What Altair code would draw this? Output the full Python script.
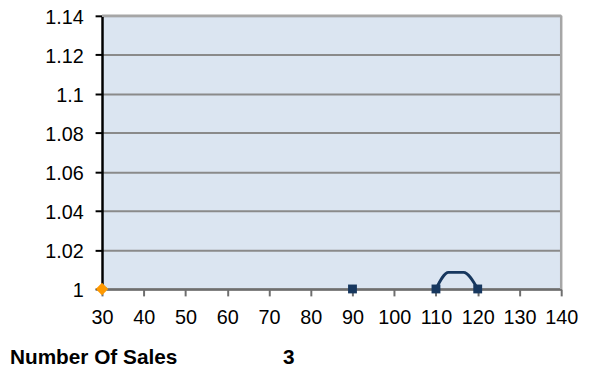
import altair as alt
import pandas as pd

# Data
sales_x = [90, 110, 120]
sales_y = [1, 1, 1]
curve_x = [110, 113, 116.6, 120]
curve_y = [1, 1.0085, 1.0085, 1]
orange_x = [30]
orange_y = [1]
y_ticks = [1, 1.02, 1.04, 1.06, 1.08, 1.1, 1.12, 1.14]
x_ticks = [30, 40, 50, 60, 70, 80, 90, 100, 110, 120, 130, 140]
footer_label = "Number Of Sales"
footer_value = "3"

pts = pd.DataFrame({"x": sales_x, "y": sales_y})
curve = pd.DataFrame({"x": curve_x, "y": curve_y})
orange = pd.DataFrame({"x": orange_x, "y": orange_y})

FONT = "Liberation Sans"
NAVY = "#17375e"

xscale = alt.Scale(domain=[30, 140], nice=False, zero=False)
yscale = alt.Scale(domain=[1, 1.14], nice=False, zero=False)

xaxis = alt.Axis(values=x_ticks, grid=False, domainColor="#6e6e6e", domainWidth=2.5,
                 tickColor="#6e6e6e", tickWidth=2, tickSize=7, labelPadding=28,
                 labelBaseline="alphabetic",
                 labelFont=FONT, labelFontSize=20, labelColor="#000000", title=None,
                 labelFlush=False, labelOverlap=False)
yaxis = alt.Axis(values=y_ticks, grid=True, gridColor="#8a8a8a", gridWidth=2,
                 domainColor="#000000", domainWidth=2.5, tickColor="#000000", tickWidth=2,
                 tickSize=7, labelPadding=12, labelOffset=2, labelFont=FONT, labelFontSize=20,
                 labelColor="#000000", title=None, labelOverlap=False,
                 labelExpr="format(datum.value, '~g')")

X = alt.X("x:Q", scale=xscale, axis=xaxis)
Y = alt.Y("y:Q", scale=yscale, axis=yaxis)

line = alt.Chart(curve).mark_line(color=NAVY, strokeWidth=3, interpolate="monotone").encode(x=X, y=Y)

squares = alt.Chart(pts).mark_point(shape="square", filled=True, color=NAVY, size=80, opacity=1).encode(x=X, y=Y)

cyan = alt.Chart(orange).mark_point(shape="M-0.2,0L1.2,0", strokeWidth=4, color="#5bc8f0",
                                    size=70, opacity=1, filled=False).encode(x=X, y=Y)

diamond = alt.Chart(orange).mark_point(shape="diamond", filled=True, color="#ff9900", size=160, opacity=1).encode(x=X, y=Y)

right_border = alt.Chart(orange).mark_rule(color="#a6a6a6", strokeWidth=2.5).encode(
    x=alt.value(464), y=alt.value(0), y2=alt.value(276))
top_border = alt.Chart(orange).mark_rule(color="#a6a6a6", strokeWidth=2.5).encode(
    x=alt.value(0), x2=alt.value(464), y=alt.value(0))

t1 = alt.Chart(orange).mark_text(text=footer_label, font=FONT, fontSize=21, fontWeight="bold",
                                 align="left", baseline="alphabetic", color="#000000").encode(
    x=alt.value(-93), y=alt.value(352))
t2 = alt.Chart(orange).mark_text(text=footer_value, font=FONT, fontSize=21, fontWeight="bold",
                                 align="left", baseline="alphabetic", color="#000000").encode(
    x=alt.value(183), y=alt.value(352))

chart = alt.layer(line, squares, cyan, diamond, right_border, top_border, t1, t2).properties(
    width=464, height=276,
    background="#ffffff",
    autosize=alt.AutoSizeParams(type="none"),
    padding={"left": 95, "top": 6, "right": 20, "bottom": 82},
).configure_view(fill="#dbe5f1", stroke=None)

chart.save("out.html", embed_options={"renderer": "svg", "actions": False})
